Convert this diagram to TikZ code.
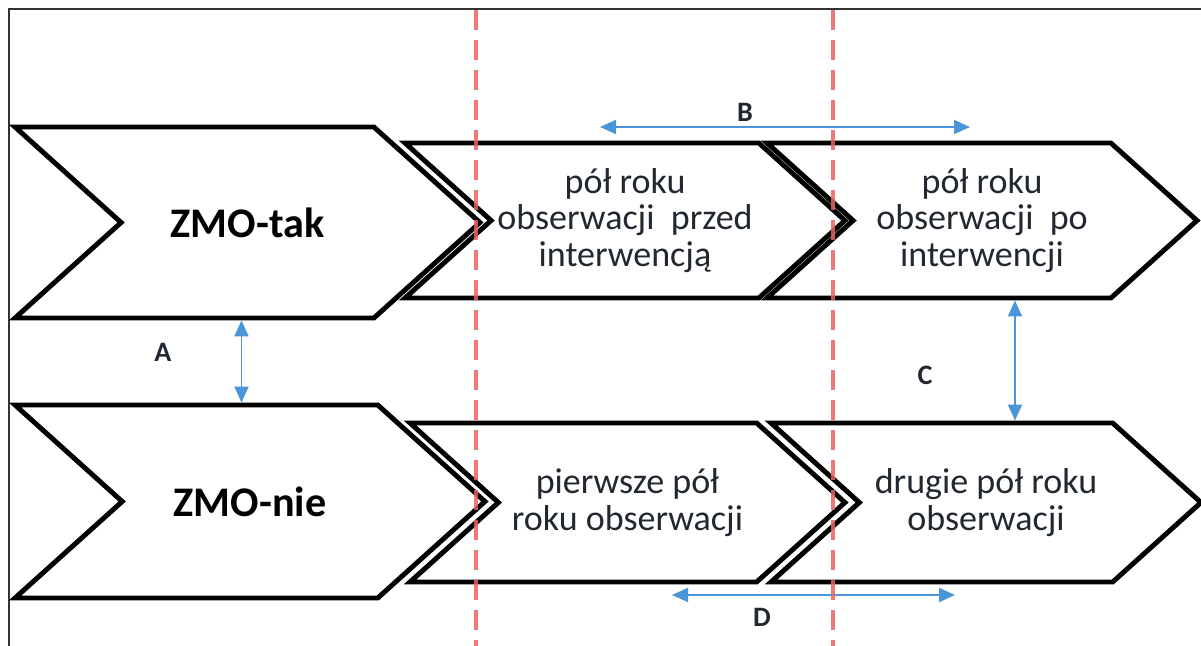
\documentclass[tikz,border=0pt]{standalone}
\usepackage{fontspec}
\setmainfont{Carlito}
\usetikzlibrary{arrows.meta,calc,positioning,shapes.symbols}
\definecolor{arrowblue}{RGB}{74,150,216}
\definecolor{guidered}{RGB}{236,98,98}
\definecolor{inkdark}{RGB}{34,40,48}
\tikzset{
  phase/.style     = {signal, signal from=west, signal to=east, signal pointer angle=84,
                      draw=black, line width=2.8pt, inner sep=0pt, align=center, text=inkdark},
  group/.style     = {phase, font=\bfseries\fontsize{24}{28}\selectfont, text=black},
  period/.style    = {phase, font=\fontsize{20.5}{21}\selectfont},
  span/.style      = {arrowblue, line width=1.1pt,
                      {Triangle[length=3.2mm,width=2.8mm]}-{Triangle[length=3.2mm,width=2.8mm]}},
  spanlabel/.style = {font=\bfseries\fontsize{16}{18}\selectfont, text=inkdark},
  cut/.style       = {guidered, line width=2.2pt, dash pattern=on 0.4cm off 0.2cm, opacity=0.85},
  frame/.style     = {line width=1.4pt, black!80},
}

\begin{document}
\begin{tikzpicture}[x=0.02cm,y=-0.02cm]
  \useasboundingbox (0,0) rectangle (1201,646);
  \draw[frame] (9,646) -- (9,9) -- (1201,9);

  % upper row
  \node[group,  minimum width=9.3cm, minimum height=3.82cm] (tak)  at (247.5,222.5) {ZMO-tak};
  \node[period, minimum width=8.8cm, minimum height=3.1cm]  (pre)  at (625,220.5)
       {pół roku\\obserwacji~ przed\\interwencją};
  \node[period, minimum width=8.6cm, minimum height=3.1cm]  (post) at (982,220.5)
       {pół roku\\obserwacji~ po\\interwencji};

  % lower row
  \node[group,  minimum width=9.4cm, minimum height=3.86cm] (nie)    at (250,501.5) {ZMO-nie};
  \node[period, minimum width=8.7cm, minimum height=3.18cm] (first)  at (627.5,502.5)
       {pierwsze pół\\roku obserwacji};
  \node[period, minimum width=8.6cm, minimum height=3.18cm] (second) at (986,502.5)
       {drugie pół roku\\obserwacji};

  % comparisons
  \coordinate (At) at ($(tak.south)+(-6,0)$);
  \draw[span] (At) -- (At |- nie.north);
  \node[spanlabel] (labA) at (163,352) {A};

  \coordinate (Bl) at (600,127);
  \coordinate (Br) at (970,127);
  \draw[span] (Bl) -- (Br);
  \node[spanlabel] (labB) at (745,112) {B};

  \coordinate (Ct) at ($(post.south)+(33,0)$);
  \draw[span] (Ct) -- (Ct |- second.north);
  \node[spanlabel] (labC) at (925,375) {C};

  \coordinate (Dl) at (672,595);
  \coordinate (Dr) at (955,595);
  \draw[span] (Dl) -- (Dr);
  \node[spanlabel] (labD) at (762,617) {D};

  % time cuts
  \draw[cut] (476,10) -- (476,646);
  \draw[cut] (833,10) -- (833,646);
\end{tikzpicture}
\end{document}
